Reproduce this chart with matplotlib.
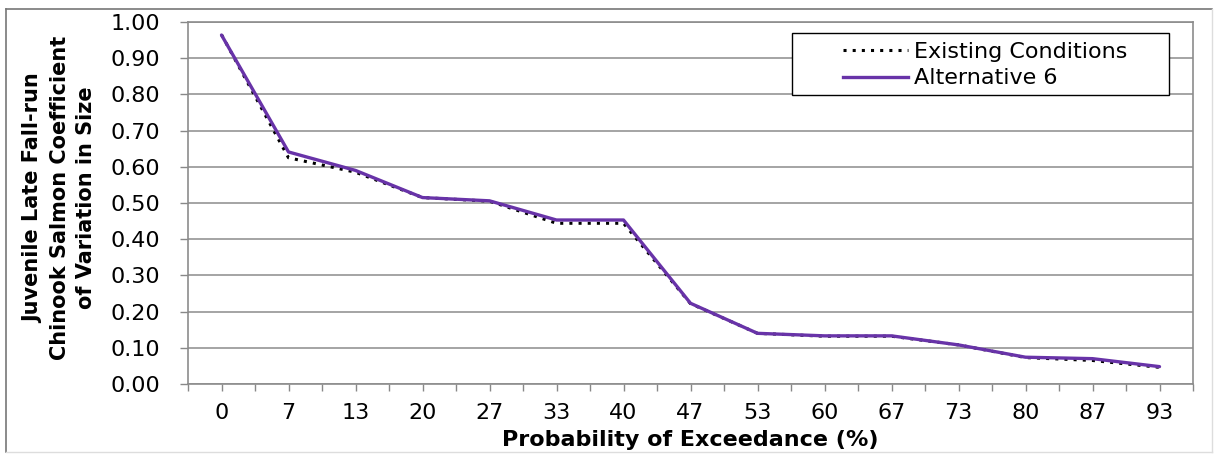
import matplotlib
matplotlib.use("Agg")
import matplotlib.pyplot as plt
from matplotlib.patches import Rectangle
from matplotlib.lines import Line2D
import numpy as np

# === DATA ===
exceedance = ["0", "7", "13", "20", "27", "33", "40", "47", "53", "60", "67", "73", "80", "87", "93"]
existing = [0.965, 0.625, 0.585, 0.515, 0.505, 0.444, 0.444, 0.222, 0.140, 0.132, 0.132, 0.108, 0.073, 0.065, 0.046]
alt6 = [0.964, 0.641, 0.590, 0.515, 0.506, 0.453, 0.453, 0.223, 0.140, 0.133, 0.133, 0.108, 0.074, 0.070, 0.048]
y_ticks = [0.0, 0.1, 0.2, 0.3, 0.4, 0.5, 0.6, 0.7, 0.8, 0.9, 1.0]

W, H = 1216, 457
fig = plt.figure(figsize=(W / 100, H / 100), dpi=100)
ax = fig.add_axes([188 / W, 1 - 384 / H, (1193 - 188) / W, (384 - 22) / H])

x = np.arange(len(exceedance))

# === LINES ===
ax.plot(x, existing, color="black", lw=2.2, linestyle=(0, (1, 2.0)), zorder=3)
ax.plot(x, alt6, color="#6833a8", lw=2.4, solid_capstyle="round", zorder=4)

# === AXES FORMATTING ===
ax.set_xlim(-0.5, len(exceedance) - 0.5)
ax.set_ylim(0, 1.0)
ax.set_xticks(x)
ax.set_xticklabels(exceedance, fontsize=16)
ax.set_xticks(np.arange(-0.5, len(exceedance), 1.0), minor=True)
ax.set_yticks(y_ticks)
ax.set_yticklabels(["%.2f" % v for v in y_ticks], fontsize=16)
ax.tick_params(axis="x", which="both", direction="out", length=5, width=1, color="#888888", pad=9)
ax.tick_params(axis="y", direction="out", length=6, width=1, color="#888888", pad=14)
ax.grid(True, axis="y", color="#8c8c8c", lw=1.1, zorder=0)
ax.set_axisbelow(True)
for side in ["top", "right", "left", "bottom"]:
    ax.spines[side].set_color("#8c8c8c")
    ax.spines[side].set_linewidth(1.2)

ax.set_xlabel("Probability of Exceedance (%)", fontsize=16, fontweight="bold", labelpad=5)
fig.text(60 / W, 1 - 198 / H,
         "Juvenile Late Fall-run\nChinook Salmon Coefficient\nof Variation in Size",
         rotation=90, ha="center", va="center", multialignment="center",
         fontsize=15, fontweight="bold", linespacing=1.4)

# === LEGEND (box drawn by hand to get Excel-like padding) ===
box = Rectangle((792 / W, 1 - 95 / H), (1169 - 792) / W, (95 - 33) / H,
                transform=fig.transFigure, facecolor="white", edgecolor="black",
                lw=1.0, zorder=5)
fig.patches.append(box)
handles = [Line2D([0], [0], color="black", lw=2.2, linestyle=(0, (1, 2.0))),
           Line2D([0], [0], color="#6833a8", lw=2.4)]
leg = fig.legend(handles, ["Existing Conditions", "Alternative 6"], loc="center left",
                 bbox_to_anchor=(832 / W, 1 - 65 / H), bbox_transform=fig.transFigure,
                 frameon=False, fontsize=16, borderpad=0, handlelength=2.9,
                 handletextpad=0.3, labelspacing=0.3)
leg.set_zorder(6)

# === OUTER CHART BORDER ===
fig.add_artist(Line2D([6 / W, 6 / W], [1 - 452 / H, 1 - 9 / H], transform=fig.transFigure, color="#777777", lw=1.2))
fig.add_artist(Line2D([6 / W, 1212 / W], [1 - 9 / H, 1 - 9 / H], transform=fig.transFigure, color="#777777", lw=1.2))
fig.add_artist(Line2D([1212 / W, 1212 / W], [1 - 452 / H, 1 - 9 / H], transform=fig.transFigure, color="#dddddd", lw=1.0))
fig.add_artist(Line2D([6 / W, 1212 / W], [1 - 452 / H, 1 - 452 / H], transform=fig.transFigure, color="#dddddd", lw=1.0))

fig.savefig("out.png", dpi=100)
